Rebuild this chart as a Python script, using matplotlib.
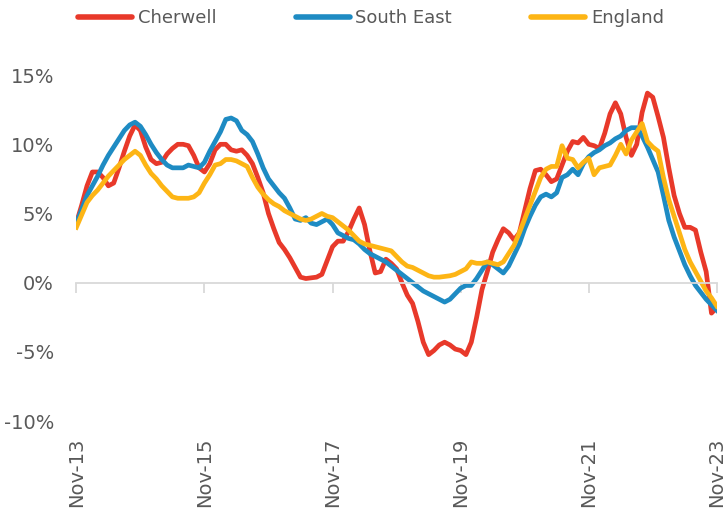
import matplotlib.pyplot as plt
import numpy as np

# monthly year-on-year change, Nov-13 .. Nov-23
cherwell = [4.3, 5.6, 7.0, 8.0, 8.0, 7.6, 7.0, 7.2, 8.3, 9.5, 10.6, 11.4, 11.0, 9.8, 8.9, 8.6,
            8.7, 9.3, 9.7, 10.0, 10.0, 9.9, 9.2, 8.3, 8.0, 8.6, 9.6, 10.0, 10.0, 9.6, 9.5, 9.6,
            9.2, 8.6, 7.6, 6.5, 5.0, 3.9, 2.9, 2.4, 1.8, 1.1, 0.4, 0.3, 0.35, 0.4, 0.6, 1.6,
            2.6, 3.0, 3.0, 3.7, 4.6, 5.4, 4.2, 2.3, 0.7, 0.8, 1.7, 1.4, 1.0, 0.0, -0.9, -1.5,
            -2.8, -4.3, -5.2, -4.9, -4.5, -4.3, -4.5, -4.8, -4.9, -5.2, -4.3, -2.5, -0.5, 0.8,
            2.2, 3.1, 3.9, 3.6, 3.1, 3.6, 5.2, 6.8, 8.1, 8.2, 7.8, 7.3, 7.5, 8.5, 9.5, 10.2,
            10.1, 10.5, 10.0, 9.9, 9.7, 10.8, 12.2, 13.0, 12.2, 10.5, 9.2, 10.0, 12.3, 13.7,
            13.4, 12.0, 10.5, 8.3, 6.3, 5.0, 4.0, 4.0, 3.8, 2.2, 0.8, -2.2, -1.8]
south_east = [4.3, 5.3, 6.3, 7.0, 7.7, 8.5, 9.2, 9.8, 10.4, 11.0, 11.4, 11.6, 11.3, 10.7, 10.0,
              9.4, 8.9, 8.5, 8.3, 8.3, 8.3, 8.5, 8.4, 8.3, 8.7, 9.5, 10.2, 10.9, 11.8, 11.9,
              11.7, 11.0, 10.7, 10.2, 9.3, 8.3, 7.5, 7.0, 6.5, 6.1, 5.4, 4.6, 4.5, 4.7, 4.3,
              4.2, 4.4, 4.6, 4.2, 3.6, 3.4, 3.2, 3.1, 2.8, 2.4, 2.1, 1.9, 1.7, 1.5, 1.2, 0.9,
              0.6, 0.3, 0.0, -0.3, -0.6, -0.8, -1.0, -1.2, -1.4, -1.2, -0.8, -0.4, -0.2, -0.2,
              0.3, 0.9, 1.5, 1.3, 1.0, 0.7, 1.2, 2.0, 2.8, 3.9, 4.8, 5.6, 6.2, 6.4, 6.2, 6.5,
              7.6, 7.8, 8.2, 7.8, 8.6, 9.1, 9.4, 9.6, 9.9, 10.1, 10.4, 10.6, 11.0, 11.2, 11.2,
              10.6, 9.8, 8.9, 8.0, 6.3, 4.5, 3.3, 2.3, 1.3, 0.5, -0.2, -0.7, -1.2, -1.6, -2.0]
england = [4.0, 4.9, 5.8, 6.3, 6.7, 7.2, 7.7, 8.1, 8.5, 8.9, 9.2, 9.5, 9.2, 8.5, 7.9, 7.5,
           7.0, 6.6, 6.2, 6.1, 6.1, 6.1, 6.2, 6.5, 7.2, 7.8, 8.5, 8.6, 8.9, 8.9, 8.8, 8.6,
           8.4, 7.6, 6.9, 6.4, 6.0, 5.7, 5.5, 5.2, 5.0, 4.8, 4.6, 4.5, 4.6, 4.8, 5.0, 4.8,
           4.7, 4.4, 4.1, 3.8, 3.4, 3.0, 2.8, 2.7, 2.6, 2.5, 2.4, 2.3, 1.9, 1.5, 1.2, 1.1,
           0.9, 0.7, 0.5, 0.4, 0.4, 0.45, 0.5, 0.6, 0.8, 1.0, 1.5, 1.4, 1.4, 1.5, 1.4, 1.3,
           1.5, 2.1, 2.7, 3.6, 4.6, 5.6, 6.6, 7.6, 8.2, 8.4, 8.4, 9.9, 9.0, 8.9, 8.3, 8.7,
           9.0, 7.8, 8.3, 8.4, 8.5, 9.2, 10.0, 9.3, 10.3, 10.9, 11.5, 10.2, 9.8, 9.5, 7.6,
           6.0, 4.8, 3.6, 2.4, 1.5, 0.8, 0.1, -0.6, -1.1, -1.7]

tick_labels = ["Nov-13", "Nov-15", "Nov-17", "Nov-19", "Nov-21", "Nov-23"]
y_ticks = [-10, -5, 0, 5, 10, 15]

grey = "#595959"
plt.rcParams['font.family'] = ['Liberation Sans Narrow', 'DejaVu Sans']

fig = plt.figure(figsize=(7.27, 5.11), dpi=100)
ax = fig.add_axes([0.105, 0.176, 0.881, 0.677])

months = np.arange(len(cherwell))
ax.plot(months, cherwell, color="#E8392A", lw=3.4, label="Cherwell", solid_joinstyle="round")
ax.plot(months, south_east, color="#1E8BC3", lw=3.4, label="South East", solid_joinstyle="round")
ax.plot(months, england, color="#FDB515", lw=3.4, label="England", solid_joinstyle="round")

ax.set_xlim(0, 120)
ax.set_ylim(-10, 15)
ax.set_yticks(y_ticks)
ax.set_yticklabels([f"{v}%" for v in y_ticks])
ax.tick_params(axis="y", length=0, pad=16, labelsize=14, labelcolor=grey)

for s in ["top", "right", "left"]:
    ax.spines[s].set_visible(False)
ax.spines["bottom"].set_position(("data", 0))
ax.spines["bottom"].set_color("#D9D9D9")
ax.spines["bottom"].set_linewidth(1.3)
tick_pos = np.arange(0, 121, 24)
ax.set_xticks(tick_pos)
ax.tick_params(axis="x", direction="out", length=7, width=1.3, color="#D9D9D9", labelbottom=False)

sec = ax.secondary_xaxis(0.0)
sec.set_xticks(tick_pos)
sec.set_xticklabels(tick_labels, rotation=90)
sec.tick_params(length=0, pad=12, labelsize=14, labelcolor=grey)
sec.spines["bottom"].set_visible(False)

leg = ax.legend(loc="center", bbox_to_anchor=(0.46, 1.165), ncol=3, frameon=False,
                fontsize=13, handlelength=3.0, handletextpad=0.3, columnspacing=4.4,
                labelcolor=grey)
for h in leg.legend_handles:
    h.set_linewidth(4)
    h.set_solid_capstyle("round")

fig.savefig("out.png", dpi=100)
